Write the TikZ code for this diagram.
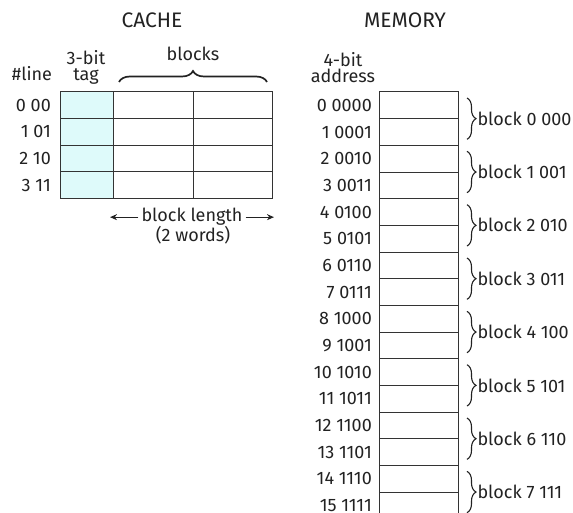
\documentclass[tikz,border=0pt]{standalone}
\usepackage{fontspec}
\setmainfont{Fira Sans}
\usetikzlibrary{positioning,decorations.pathreplacing,arrows.meta}
\definecolor{tagcyan}{RGB}{222,250,250}
\definecolor{ink}{RGB}{34,34,34}

\begin{document}
\begin{tikzpicture}[x=1pt, y=-1pt,
  font=\fontsize{18}{21}\selectfont, text=ink,
  cell/.style={draw=black!80, line width=1pt, minimum height=26.67pt, inner sep=0pt, outer sep=0pt},
  tagcell/.style={cell, fill=tagcyan, minimum width=53.3pt},
  blkcell/.style={cell, minimum width=79.7pt},
  memcell/.style={cell, minimum width=79pt},
  lbl/.style={inner sep=0pt, anchor=east},
  hdr/.style={inner sep=0pt, anchor=base},
  twoline/.style={hdr, align=center, font=\fontsize{18}{16}\selectfont},
  ttl/.style={hdr, font=\fontsize{21}{24}\selectfont},
  brc/.style={decorate, decoration={brace, amplitude=9pt}, line width=1.1pt, draw=ink},
  arr/.style={-{Stealth[length=7pt, width=6pt]}, line width=1.1pt, draw=ink}
]
\useasboundingbox (0,0) rectangle (573,513);

% titles
\node[ttl] (cachettl) at (152,27.5) {CACHE};
\node[ttl] (memttl) at (405,28) {MEMORY};

% cache header
\node[hdr] (linehdr) at (32,81) {\#line};
\node[twoline] (taghdr) at (86,81) {3-bit\\tag};
\node[hdr] (blkhdr) at (193,61) {blocks};
\coordinate (blkL) at (119,82);
\coordinate (blkR) at (267,82);
\draw[brc, line width=1.7pt, decoration={amplitude=11pt}] (blkL) -- (blkR);

% cache lines
\foreach \i/\t in {0/00,1/01,2/10,3/11} {
  \node[tagcell] (t\i) at (86.7,105+26.67*\i) {};
  \node[blkcell, right=0pt of t\i] (a\i) {};
  \node[blkcell, right=0pt of a\i] (b\i) {};
  \node[lbl] (l\i) at (51,105+26.67*\i) {\i\ \t};
}

% block length
\node[hdr] (blen) at (192,222) {block length};
\node[hdr] (bwords) at (193,241) {(2 words)};
\coordinate (lenL) at (113,0);
\coordinate (lenR) at (271,0);
\draw[arr] ([xshift=-3pt]blen.west) -- ([xshift=-3pt]blen.west -| lenL);
\draw[arr] ([xshift=3pt]blen.east) -- ([xshift=3pt]blen.east -| lenR);

% memory header
\node[twoline] (addrhdr) at (343,83) {4-bit\\address};

% memory words
\foreach \i/\b in {0/0000,1/0001,2/0010,3/0011,4/0100,5/0101,6/0110,7/0111,
                   8/1000,9/1001,10/1010,11/1011,12/1100,13/1101,14/1110,15/1111} {
  \node[memcell] (m\i) at (418.5,105.33+26.67*\i) {};
  \node[lbl] (ad\i) at (372,105.33+26.67*\i) {\i\ \b};
}

% memory blocks
\foreach \k/\c in {0/000,1/001,2/010,3/011,4/100,5/101,6/110,7/111} {
  \pgfmathtruncatemacro{\ka}{2*\k}
  \pgfmathtruncatemacro{\kb}{2*\k+1}
  \draw[brc] ([xshift=9pt,yshift=-6pt]m\ka.north east)
    -- node[midway, anchor=west, xshift=10pt, inner sep=0pt] (bl\k) {block \k\ \c}
    ([xshift=9pt,yshift=6pt]m\kb.south east);
}
\end{tikzpicture}
\end{document}
